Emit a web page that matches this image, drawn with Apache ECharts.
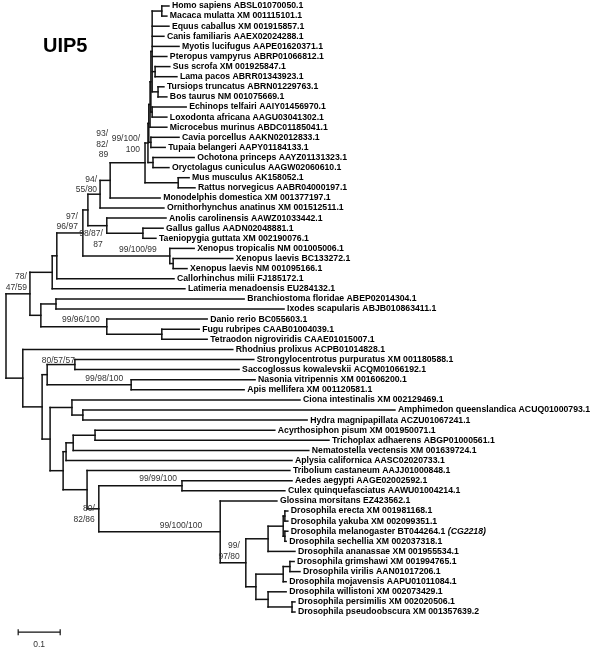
<!DOCTYPE html>
<html>
<head>
<meta charset="utf-8">
<title>UIP5</title>
<script src="https://cdn.jsdelivr.net/npm/echarts@6/dist/echarts.min.js"></script>
<style>
  html, body { margin: 0; padding: 0; background: #fff; }
  #chart { width: 600px; height: 651px; }
</style>
</head>
<body>
<div id="chart"></div>
<script>
// tip labels, top to bottom
var taxa = [
  'Homo sapiens ABSL01070050.1', 'Macaca mulatta XM 001115101.1', 'Equus caballus XM 001915857.1',
  'Canis familiaris AAEX02024288.1', 'Myotis lucifugus AAPE01620371.1', 'Pteropus vampyrus ABRP01066812.1',
  'Sus scrofa XM 001925847.1', 'Lama pacos ABRR01343923.1', 'Tursiops truncatus ABRN01229763.1',
  'Bos taurus NM 001075669.1', 'Echinops telfairi AAIY01456970.1', 'Loxodonta africana AAGU03041302.1',
  'Microcebus murinus ABDC01185041.1', 'Cavia porcellus AAKN02012833.1', 'Tupaia belangeri AAPY01184133.1',
  'Ochotona princeps AAYZ01131323.1', 'Oryctolagus cuniculus AAGW02060610.1', 'Mus musculus AK158052.1',
  'Rattus norvegicus AABR04000197.1', 'Monodelphis domestica XM 001377197.1', 'Ornithorhynchus anatinus XM 001512511.1',
  'Anolis carolinensis AAWZ01033442.1', 'Gallus gallus AADN02048881.1', 'Taeniopygia guttata XM 002190076.1',
  'Xenopus tropicalis NM 001005006.1', 'Xenopus laevis BC133272.1', 'Xenopus laevis NM 001095166.1',
  'Callorhinchus milii FJ185172.1', 'Latimeria menadoensis EU284132.1', 'Branchiostoma floridae ABEP02014304.1',
  'Ixodes scapularis ABJB010863411.1', 'Danio rerio BC055603.1', 'Fugu rubripes CAAB01004039.1',
  'Tetraodon nigroviridis CAAE01015007.1', 'Rhodnius prolixus ACPB01014828.1', 'Strongylocentrotus purpuratus XM 001180588.1',
  'Saccoglossus kowalevskii ACQM01066192.1', 'Nasonia vitripennis XM 001606200.1', 'Apis mellifera XM 001120581.1',
  'Ciona intestinalis XM 002129469.1', 'Amphimedon queenslandica ACUQ01000793.1', 'Hydra magnipapillata ACZU01067241.1',
  'Acyrthosiphon pisum XM 001950071.1', 'Trichoplax adhaerens ABGP01000561.1', 'Nematostella vectensis XM 001639724.1',
  'Aplysia californica AASC02020733.1', 'Tribolium castaneum AAJJ01000848.1', 'Aedes aegypti AAGE02002592.1',
  'Culex quinquefasciatus AAWU01004214.1', 'Glossina morsitans EZ423562.1', 'Drosophila erecta XM 001981168.1',
  'Drosophila yakuba XM 002099351.1', 'Drosophila melanogaster BT044264.1', 'Drosophila sechellia XM 002037318.1',
  'Drosophila ananassae XM 001955534.1', 'Drosophila grimshawi XM 001994765.1', 'Drosophila virilis AAN01017206.1',
  'Drosophila mojavensis AAPU01011084.1', 'Drosophila willistoni XM 002073429.1', 'Drosophila persimilis XM 002020506.1',
  'Drosophila pseudoobscura XM 001357639.2'
];

// distance root -> tip (substitutions per site)
var tipDepth = [
  0.388, 0.383, 0.388, 0.376, 0.412, 0.383, 0.390, 0.407, 0.376, 0.383,
  0.429, 0.383, 0.383, 0.412, 0.379, 0.448, 0.388, 0.436, 0.450, 0.367,
  0.376, 0.381, 0.374, 0.357, 0.448, 0.540, 0.431, 0.400, 0.426, 0.567,
  0.662, 0.479, 0.460, 0.479, 0.540, 0.590, 0.555, 0.593, 0.567, 0.700,
  0.926, 0.717, 0.640, 0.769, 0.721, 0.681, 0.676, 0.681, 0.664, 0.645,
  0.671, 0.671, 0.671, 0.667, 0.688, 0.686, 0.700, 0.667, 0.667, 0.688,
  0.688
];

// italic note after a tip label
var tipNotes = [[52, '(CG2218)']];

// internal nodes: name, distance root -> node, children (tip index or node name)
var nodeNames = [
  'hm', 'sl', 'tb', 'laur', 'afro', 'la', 'lam', 'ct', 'lamc', 'oo', 'pl1', 'rod', 'plac', 'ther', 'mamm',
  'bird', 'saur', 'amn', 'xl', 'xen', 'tet', 'gn', 'a1', 'bi', 'ft', 'fish', 'a2', 'a',
  'ss', 'na', 'c', 'ah', 'cah', 'at', 'atn', 'atna', 'ac',
  'ey', 'ms', 'mel', 'mela', 'gv', 'gvm', 'pp', 'wo', 'rest', 'd0', 'dro', 'dip', 'td',
  'e', 'd', 'b2', 'b', 'root'
];
var nodeDepth = [
  0.371, 0.355, 0.362, 0.348, 0.348, 0.345, 0.343, 0.345, 0.340, 0.350, 0.338, 0.410, 0.331, 0.248, 0.224,
  0.326, 0.240, 0.195, 0.398, 0.390, 0.183, 0.121, 0.110, 0.119, 0.371, 0.240, 0.083, 0.057,
  0.164, 0.298, 0.098, 0.183, 0.157, 0.212, 0.160, 0.143, 0.419,
  0.664, 0.664, 0.660, 0.624, 0.676, 0.660, 0.681, 0.624, 0.595, 0.571, 0.510, 0.221, 0.193,
  0.136, 0.105, 0.086, 0.040, 0
];
var nodeKids = [
  [0, 1], [6, 7], [8, 9], ['hm', 2, 3, 4, 5, 'sl', 'tb'], [10, 11], ['laur', 'afro'], ['la', 12], [13, 14],
  ['lam', 'ct'], [15, 16], ['lamc', 'oo'], [17, 18], ['pl1', 'rod'], ['plac', 19], ['ther', 20],
  [22, 23], [21, 'bird'], ['mamm', 'saur'], [25, 26], [24, 'xl'], ['amn', 'xen'], ['tet', 27], ['gn', 28],
  [29, 30], [32, 33], [31, 'ft'], ['bi', 'fish'], ['a1', 'a2'],
  [35, 36], [37, 38], ['ss', 'na'], [40, 41], [39, 'ah'], [42, 43], ['at', 44], ['atn', 45], [47, 48],
  [50, 51], [52, 53], ['ey', 'ms'], ['mel', 54], [55, 56], ['gv', 57], [59, 60], [58, 'pp'], ['gvm', 'wo'],
  ['mela', 'rest'], [49, 'd0'], ['ac', 'dro'], [46, 'dip'],
  ['atna', 'td'], ['cah', 'e'], ['c', 'd'], [34, 'b2'], ['a', 'b']
];

// bootstrap support values
var supportNode = ['a', 'tet', 'mamm', 'ther', 'plac', 'saur', 'xen', 'fish', 'ss', 'na', 'ac', 'dro', 'd0', 'dip'];
var supportText = ['78/\n47/59', '97/\n96/97', '94/\n55/80', '93/\n82/\n89', '99/100/\n100', '98/87/\n87',
  '99/100/99', '99/96/100', '80/57/57', '99/98/100', '99/99/100', '99/100/100', '99/\n97/80', '80/\n82/86'];

var scaleBar = 0.1;

// ---- layout (px shifts for the support labels, right edge / anchor edge) ----
var labelShift = [
  [-3, -1, 'bottom'], [-5, -1, 'bottom'], [-3, 1, 'bottom'], [-2, -20, 'bottom'], [-5, -8, 'bottom'],
  [-4, 3, 'top'], [-13, -1, 'bottom'], [-7, -2, 'bottom'], [0, 1, 'bottom'], [-8, -1, 'bottom'],
  [-5, -2, 'bottom'], [-18, -1, 'bottom'], [-6, -1, 'bottom'], [-4, -5, 'top']
];

var depthOf = {}, kidsOf = {};
nodeNames.forEach(function (n, i) {
  depthOf[n] = nodeDepth[i];
  kidsOf[n] = nodeKids[i];
});

// y of a node = middle of its first and last child
var yOf = {};
function place(k) {
  if (typeof k === 'number') return k;
  if (yOf[k] == null) {
    var ys = kidsOf[k].map(place);
    yOf[k] = (Math.min.apply(null, ys) + Math.max.apply(null, ys)) / 2;
  }
  return yOf[k];
}
place('root');

var segments = [];
nodeNames.forEach(function (n) {
  var x = depthOf[n];
  var ys = kidsOf[n].map(place);
  segments.push([x, Math.min.apply(null, ys), x, Math.max.apply(null, ys)]);
  kidsOf[n].forEach(function (k) {
    var kx = typeof k === 'number' ? tipDepth[k] : depthOf[k];
    segments.push([x, place(k), kx, place(k)]);
  });
});

var noteOf = {};
tipNotes.forEach(function (t) { noteOf[t[0]] = t[1]; });

var FAMILY = '"Liberation Sans", Arial, Helvetica, sans-serif';
var TAXON_FONT = 'bold 8.7px ' + FAMILY;
var SUPPORT_FONT = '8.5px ' + FAMILY;

var chart = echarts.init(document.getElementById('chart'));

chart.setOption({
  animation: false,
  backgroundColor: '#fff',
  grid: { left: 0, right: 0, top: 0, bottom: 0 },
  xAxis: { type: 'value', min: -6 / 420, max: 594 / 420, show: false },
  yAxis: { type: 'value', inverse: true, min: -0.594, max: 63.86, show: false },
  graphic: [{
    type: 'text', left: 43, top: 36,
    style: { text: 'UIP5', font: 'bold 20px ' + FAMILY, fill: '#000' }
  }],
  series: [
    {
      // branches
      type: 'custom',
      silent: true,
      data: segments,
      encode: { x: [0, 2], y: [1, 3] },
      renderItem: function (params, api) {
        var a = api.coord([api.value(0), api.value(1)]);
        var b = api.coord([api.value(2), api.value(3)]);
        return {
          type: 'line',
          shape: { x1: a[0], y1: a[1], x2: b[0], y2: b[1] },
          style: { stroke: '#111', lineWidth: 1.5, lineCap: 'square' }
        };
      }
    },
    {
      // tip labels
      type: 'custom',
      silent: true,
      data: taxa.map(function (t, i) { return [tipDepth[i], i]; }),
      encode: { x: 0, y: 1 },
      renderItem: function (params, api) {
        var i = params.dataIndex;
        var p = api.coord([api.value(0), api.value(1)]);
        var style = { text: taxa[i], font: TAXON_FONT, fill: '#000', align: 'left', verticalAlign: 'middle' };
        if (noteOf[i]) {
          style.text = '{b|' + taxa[i] + ' }{i|' + noteOf[i] + '}';
          style.rich = {
            b: { font: TAXON_FONT, fill: '#000' },
            i: { font: 'italic bold 8.7px ' + FAMILY, fill: '#000' }
          };
        }
        return { type: 'text', x: p[0] + 3, y: p[1], style: style };
      }
    },
    {
      // bootstrap values
      type: 'custom',
      silent: true,
      data: supportNode.map(function (n) { return [depthOf[n], yOf[n]]; }),
      encode: { x: 0, y: 1 },
      renderItem: function (params, api) {
        var i = params.dataIndex;
        var p = api.coord([api.value(0), api.value(1)]);
        var s = labelShift[i];
        return {
          type: 'text', x: p[0] + s[0], y: p[1] + s[1],
          style: {
            text: supportText[i], font: SUPPORT_FONT, fill: '#333', lineHeight: 10.5,
            align: 'right', verticalAlign: s[2]
          }
        };
      }
    },
    {
      // scale bar
      type: 'custom',
      silent: true,
      data: [[0.029, 62, 0.029 + scaleBar]],
      encode: { x: [0, 2], y: 1 },
      renderItem: function (params, api) {
        var a = api.coord([api.value(0), api.value(1)]);
        var b = api.coord([api.value(2), api.value(1)]);
        return {
          type: 'group',
          children: [
            { type: 'line', shape: { x1: a[0], y1: a[1], x2: b[0], y2: b[1] }, style: { stroke: '#111', lineWidth: 1.2 } },
            { type: 'line', shape: { x1: a[0], y1: a[1] - 3, x2: a[0], y2: a[1] + 3 }, style: { stroke: '#111', lineWidth: 1.2 } },
            { type: 'line', shape: { x1: b[0], y1: b[1] - 3, x2: b[0], y2: b[1] + 3 }, style: { stroke: '#111', lineWidth: 1.2 } },
            {
              type: 'text', x: (a[0] + b[0]) / 2, y: a[1] + 8,
              style: { text: String(scaleBar), font: SUPPORT_FONT, fill: '#333', align: 'center', verticalAlign: 'top' }
            }
          ]
        };
      }
    }
  ]
});
</script>
</body>
</html>
